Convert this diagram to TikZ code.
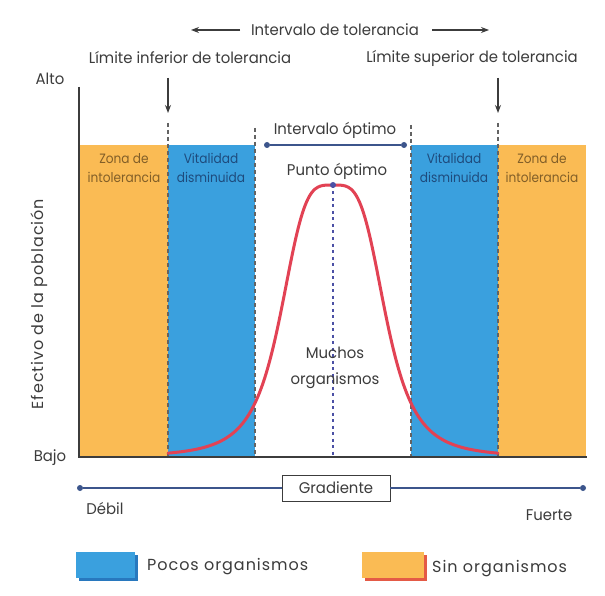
\documentclass[tikz,border=0pt]{standalone}
\usepackage{fontspec}
\setmainfont{Poppins}
\newfontfamily\fut[FakeStretch=0.96]{Poppins}
\newfontfamily\zfut[FakeStretch=0.9]{Poppins}
\newfontfamily\wide[LetterSpace=6]{Poppins}
\usetikzlibrary{arrows.meta}
\definecolor{orz}{RGB}{250,187,84}
\definecolor{blz}{RGB}{58,160,222}
\definecolor{bld}{RGB}{40,120,190}
\definecolor{redc}{RGB}{226,66,84}
\definecolor{txt}{RGB}{60,60,60}
\definecolor{otxt}{RGB}{130,95,40}
\definecolor{btxt}{RGB}{30,75,125}
\definecolor{lineb}{RGB}{60,85,140}
\definecolor{dotb}{RGB}{75,80,165}
\definecolor{redsh}{RGB}{228,90,70}
\tikzset{
  lab/.style={text=txt, inner sep=0pt, font=\fut\fontsize{15.5}{17}\selectfont},
  zlab/.style={inner sep=0pt, align=center, font=\zfut\fontsize{13.5}{19}\selectfont},
  leg/.style={text=txt, inner sep=0pt, anchor=west, font=\wide\fontsize{16}{18}\selectfont},
  dashln/.style={draw=txt!80, line width=1.1pt, dash pattern=on 4pt off 3pt},
  arr/.style={draw=txt, line width=1.1pt, -{Stealth[length=8pt,width=6pt]}},
  dotline/.style={draw=lineb, line width=1.3pt},
  enddot/.style={circle, fill=lineb, inner sep=0pt, minimum size=6pt},
}
\begin{document}
\begin{tikzpicture}[x=1pt,y=-1pt]
\useasboundingbox[fill=white] (0,0) rectangle (605,596);
% bands
\fill[orz] (79,145) rectangle (168,457);
\fill[blz] (168,145) rectangle (255,457);
\fill[blz] (411,145) rectangle (498,457);
\fill[orz] (498,145) rectangle (586,457);
% dashed limits
\coordinate (d1t) at (168,123); \coordinate (d1b) at (168,457);
\coordinate (d2t) at (255,128); \coordinate (d2b) at (255,457);
\coordinate (d3t) at (411,125); \coordinate (d3b) at (411,457);
\coordinate (d4t) at (498,123); \coordinate (d4b) at (498,457);
\draw[dashln] (d1t) -- (d1b);
\draw[dashln] (d2t) -- (d2b);
\draw[dashln] (d3t) -- (d3b);
\draw[dashln] (d4t) -- (d4b);
% optimum dotted line
\coordinate (peak) at (333,185);
\coordinate (pbase) at (333,457);
\draw[dotb, line width=1.4pt, dash pattern=on 3pt off 3.5pt] (peak) -- (pbase);
% curve
\draw[redc, line width=3pt, line cap=round] plot[domain=-165:165, samples=120, smooth]
  ({333+\x},{457-272/(1+pow((abs(\x)+0.001)/54,3.8))});
\fill[dotb] (peak) circle (3pt);
% axes
\coordinate (ytop) at (79,87); \coordinate (orig) at (79,457); \coordinate (xend) at (587,457);
\draw[txt, line width=2pt] (ytop) -- (orig) -- (xend);
% axis labels
\node[lab] (alto) at (50,79) {Alto};
\node[lab] (bajo) at (50,458) {Bajo};
\node[lab, rotate=90, font=\wide\fontsize{16}{18}\selectfont] (efec) at (39,304) {Efectivo de la población};
% top labels
\node[lab] (itol) at (335,30) {Intervalo de tolerancia};
\coordinate (la1) at (240,30); \coordinate (la2) at (191,30);
\coordinate (ra1) at (432,30); \coordinate (ra2) at (489,30);
\draw[arr] (la1) -- (la2);
\draw[arr] (ra1) -- (ra2);
\node[lab] (linf) at (190,58) {Límite inferior de tolerancia};
\node[lab] (lsup) at (472,58) {Límite superior de tolerancia};
\coordinate (a1s) at (168,78); \coordinate (a1e) at (168,113);
\coordinate (a2s) at (498,78); \coordinate (a2e) at (498,113);
\draw[arr] (a1s) -- (a1e);
\draw[arr] (a2s) -- (a2e);
% optimum interval
\node[lab] (iopt) at (335,130) {Intervalo óptimo};
\node[enddot] (o1) at (267,145) {};
\node[enddot] (o2) at (404,145) {};
\draw[dotline] (o1) -- (o2);
% zone labels
\node[zlab, text=otxt] (z1) at (124,168) {Zona de\\intolerancia};
\node[zlab, text=btxt] (v1) at (211,168) {Vitalidad\\disminuida};
\node[zlab, text=btxt] (v2) at (454,168) {Vitalidad\\disminuida};
\node[zlab, text=otxt] (z2) at (542,168) {Zona de\\intolerancia};
\node[lab] (popt) at (337,171) {Punto óptimo};
\node[lab, align=center, font=\fut\fontsize{15.5}{26}\selectfont] (much) at (335,368) {Muchos\\organismos};
% gradient
\node[lab, draw=txt, line width=0.9pt, minimum width=108pt, minimum height=26pt] (grad) at (336,488) {Gradiente};
\node[enddot] (g1) at (80,488) {};
\node[enddot] (g2) at (583,488) {};
\draw[dotline] (g1) -- (grad.west);
\draw[dotline] (grad.east) -- (g2);
\node[lab] (debil) at (105,509) {Débil};
\node[lab] (fuerte) at (549,515) {Fuerte};
% legend
\fill[bld] (79,555) rectangle (138,581);
\fill[blz] (76,552) rectangle (135,578);
\fill[redsh] (365,555) rectangle (427,581);
\fill[orz] (362,552) rectangle (424,578);
\node[leg] (lp) at (147,567) {Pocos organismos};
\node[leg] (ls) at (432,569) {Sin organismos};
\end{tikzpicture}
\end{document}
